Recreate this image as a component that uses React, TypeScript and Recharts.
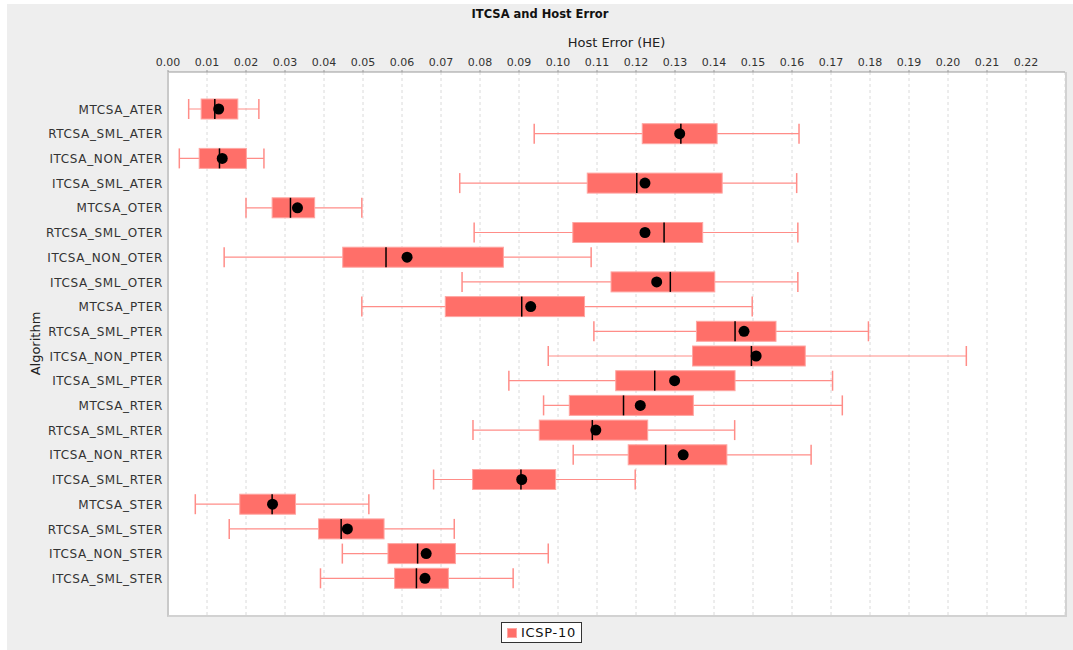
import React from "react";
import {
  ComposedChart,
  Bar,
  XAxis,
  YAxis,
  CartesianGrid,
  Legend,
  Label,
} from "recharts";

const categories = [
  "MTCSA_ATER", "RTCSA_SML_ATER", "ITCSA_NON_ATER", "ITCSA_SML_ATER",
  "MTCSA_OTER", "RTCSA_SML_OTER", "ITCSA_NON_OTER", "ITCSA_SML_OTER",
  "MTCSA_PTER", "RTCSA_SML_PTER", "ITCSA_NON_PTER", "ITCSA_SML_PTER",
  "MTCSA_RTER", "RTCSA_SML_RTER", "ITCSA_NON_RTER", "ITCSA_SML_RTER",
  "MTCSA_STER", "RTCSA_SML_STER", "ITCSA_NON_STER", "ITCSA_SML_STER",
];

// box plot stats per algorithm
const whiskerLow = [0.0053, 0.0939, 0.0029, 0.0748, 0.0200, 0.0785, 0.0144, 0.0754, 0.0497, 0.1092, 0.0975, 0.0874, 0.0963, 0.0782, 0.1039, 0.0681, 0.0070, 0.0157, 0.0447, 0.0391];
const q1 = [0.0085, 0.1216, 0.0080, 0.1075, 0.0267, 0.1038, 0.0448, 0.1136, 0.0711, 0.1355, 0.1345, 0.1148, 0.1029, 0.0952, 0.1180, 0.0781, 0.0184, 0.0386, 0.0564, 0.0581];
const median = [0.0120, 0.1315, 0.0132, 0.1202, 0.0314, 0.1272, 0.0559, 0.1288, 0.0907, 0.1454, 0.1496, 0.1248, 0.1168, 0.1088, 0.1276, 0.0905, 0.0267, 0.0444, 0.0640, 0.0637];
const mean = [0.0130, 0.1312, 0.0139, 0.1223, 0.0332, 0.1223, 0.0613, 0.1253, 0.0930, 0.1477, 0.1508, 0.1299, 0.1211, 0.1097, 0.1321, 0.0907, 0.0268, 0.0460, 0.0662, 0.0659];
const q3 = [0.0179, 0.1408, 0.0201, 0.1421, 0.0376, 0.1371, 0.0860, 0.1402, 0.1068, 0.1559, 0.1634, 0.1454, 0.1347, 0.1230, 0.1433, 0.0994, 0.0327, 0.0554, 0.0737, 0.0719];
const whiskerHigh = [0.0233, 0.1618, 0.0246, 0.1612, 0.0497, 0.1615, 0.1085, 0.1615, 0.1498, 0.1796, 0.2047, 0.1704, 0.1729, 0.1453, 0.1649, 0.1198, 0.0515, 0.0734, 0.0975, 0.0885];

const xTicks = [0, 0.01, 0.02, 0.03, 0.04, 0.05, 0.06, 0.07, 0.08, 0.09, 0.1, 0.11, 0.12, 0.13, 0.14, 0.15, 0.16, 0.17, 0.18, 0.19, 0.2, 0.21, 0.22];

const seriesName = "ICSP-10";

const BOX = "#ff6f69";
const BOX_EDGE = "#ffa6a2";
const WHISKER = "#ff8d88";

const data = categories.map((name, i) => ({
  name,
  low: whiskerLow[i],
  q1: q1[i],
  median: median[i],
  mean: mean[i],
  q3: q3[i],
  high: whiskerHigh[i],
}));

// bar spans [low, high]; inner marks are placed on the same linear scale
function BoxShape(props: any) {
  const { x, y, width, height, payload } = props;
  const { low, high } = payload;
  const px = (v: number) => x + ((v - low) / (high - low)) * width;
  const cy = y + height / 2;
  const bx1 = px(payload.q1);
  const bx2 = px(payload.q3);
  return (
    <g>
      <line x1={x} x2={x + width} y1={cy} y2={cy} stroke={WHISKER} strokeWidth={1.2} />
      <line x1={x} x2={x} y1={y} y2={y + height} stroke={WHISKER} strokeWidth={1.5} />
      <line x1={x + width} x2={x + width} y1={y} y2={y + height} stroke={WHISKER} strokeWidth={1.5} />
      <rect x={bx1} y={y} width={bx2 - bx1} height={height} fill={BOX} stroke={BOX_EDGE} strokeWidth={1} />
      <line x1={px(payload.median)} x2={px(payload.median)} y1={y} y2={y + height} stroke="#000" strokeWidth={1.5} />
      <circle cx={px(payload.mean)} cy={cy} r={5.5} fill="#000" />
    </g>
  );
}

function LegendBox() {
  return (
    <div style={{ textAlign: "center", lineHeight: 0 }}>
      <div
        style={{
          display: "inline-flex",
          alignItems: "center",
          boxSizing: "border-box",
          height: 21,
          padding: "0 5px",
          border: "1px solid #333",
          background: "#fff",
        }}
      >
        <span
          style={{
            display: "inline-block",
            width: 8,
            height: 8,
            background: BOX,
            border: `1px solid ${BOX_EDGE}`,
            marginRight: 4,
          }}
        />
        <span style={{ fontSize: 13, lineHeight: "15px", letterSpacing: 0.7, color: "#111" }}>{seriesName}</span>
      </div>
    </div>
  );
}

export default function App() {
  return (
    <div
      style={{
        position: "absolute",
        left: 0,
        top: 0,
        width: 1073,
        height: 650,
        background: "#fff",
        fontFamily: "'DejaVu Sans', sans-serif",
      }}
    >
      <div style={{ position: "absolute", left: 7, top: 4, width: 1066, height: 646, background: "#eeeeee" }} />
      <div
        style={{
          position: "absolute",
          left: 7,
          top: 7,
          width: 1066,
          textAlign: "center",
          fontSize: 11.5,
          fontWeight: "bold",
          lineHeight: "14px",
          color: "#111",
        }}
      >
        ITCSA and Host Error
      </div>
      <div style={{ position: "absolute", left: 0, top: 0 }}>
        <ComposedChart
          width={1073}
          height={650}
          data={data}
          layout="vertical"
          margin={{ top: 42, right: 8, bottom: 7, left: 18 }}
        >
          <CartesianGrid horizontal={false} fill="#fff" stroke="#dadada" strokeDasharray="3 3" />
          <XAxis
            type="number"
            orientation="top"
            domain={[0, 0.23]}
            ticks={xTicks}
            interval={0}
            height={30}
            tickFormatter={(v: number) => v.toFixed(2)}
            tick={{ fontSize: 11, fill: "#333" }}
            tickSize={2}
            tickMargin={4}
            axisLine={{ stroke: "#9a9a9a" }}
            tickLine={{ stroke: "#9a9a9a" }}
          >
            <Label
              value="Host Error (HE)"
              content={(p: any) => (
                <text
                  x={p.viewBox.x + p.viewBox.width / 2}
                  y={47}
                  textAnchor="middle"
                  fontSize={13}
                  fill="#222"
                >
                  {p.value}
                </text>
              )}
            />
          </XAxis>
          <YAxis
            type="category"
            dataKey="name"
            width={150}
            padding={{ top: 25, bottom: 24 }}
            axisLine={false}
            tickLine={false}
            tickSize={0}
            tickMargin={5}
            interval={0}
            tick={{ fontSize: 12, fill: "#333", letterSpacing: 0.65 }}
          >
            <Label
              value="Algorithm"
              content={(p: any) => {
                const cx = 35;
                const cy = p.viewBox.y + p.viewBox.height / 2;
                return (
                  <text
                    x={cx}
                    y={cy}
                    transform={`rotate(-90 ${cx} ${cy})`}
                    textAnchor="middle"
                    dominantBaseline="central"
                    fontSize={13}
                    fill="#222"
                  >
                    {p.value}
                  </text>
                );
              }}
            />
          </YAxis>
          <Legend
            content={() => <LegendBox />}
            wrapperStyle={{ paddingTop: 7, lineHeight: 0 }}
          />
          <Bar
            name={seriesName}
            dataKey={(d: any) => [d.low, d.high]}
            barSize={20}
            shape={<BoxShape />}
            isAnimationActive={false}
          />
        </ComposedChart>
      </div>
      <div
        style={{
          position: "absolute",
          left: 167,
          top: 72,
          width: 900,
          height: 545,
          boxSizing: "border-box",
          borderLeft: "2px solid #c9c9c9",
          borderRight: "2px solid #d2d2d2",
          borderBottom: "2px solid #d2d2d2",
          pointerEvents: "none",
        }}
      />
    </div>
  );
}
